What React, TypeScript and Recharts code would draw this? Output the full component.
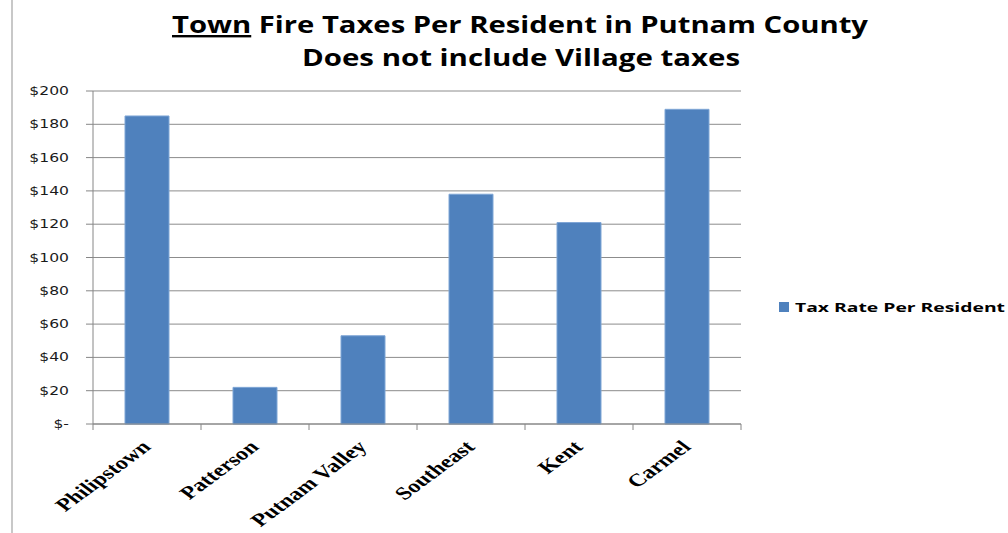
import React from 'react';
import { BarChart, Bar, XAxis, YAxis, CartesianGrid, Legend } from 'recharts';

const towns = ['Philipstown', 'Patterson', 'Putnam Valley', 'Southeast', 'Kent', 'Carmel'];
const taxPerResident = [185, 22, 53, 138, 121, 189];
const yTicks = [0, 20, 40, 60, 80, 100, 120, 140, 160, 180, 200];
const seriesName = 'Tax Rate Per Resident';
const titleLine1Rest = ' Fire Taxes Per Resident in Putnam County';
const titleLine1Underlined = 'Town';
const titleLine2 = 'Does not include Village taxes';

const data = towns.map((t, i) => ({ town: t, value: taxPerResident[i] }));

const W = 1008;
const H = 533;
const PLOT_LEFT = 93;
const PLOT_RIGHT = 741;
const STRETCH = 1.35;
const BAND = (PLOT_RIGHT - PLOT_LEFT) / towns.length;

const fmt = (v: number) => (v === 0 ? '$-' : `$${v}`);

const YTick = (props: any) => {
  const { x, y, payload } = props;
  return (
    <g transform={`translate(${x},${y}) scale(1.3,1)`}>
      <text x={0} y={0} dy={4} textAnchor="end" fontFamily="'DejaVu Sans', sans-serif" fontSize={12} fill="#1a1a1a">
        {fmt(payload.value)}
      </text>
    </g>
  );
};

const XTick = (props: any) => {
  const { x, payload, index } = props;
  const axisY = 424;
  return (
    <g>
      <line x1={x - BAND / 2} x2={x - BAND / 2} y1={axisY} y2={axisY + 6} stroke="#868686" />
      {index === towns.length - 1 && (
        <line x1={x + BAND / 2} x2={x + BAND / 2} y1={axisY} y2={axisY + 6} stroke="#868686" />
      )}
      <g transform={`translate(${x + 5},${axisY + 24}) scale(${STRETCH},1) rotate(-45)`}>
        <text x={0} y={0} textAnchor="end" fontFamily="'Liberation Serif', 'Times New Roman', serif" fontWeight="bold" fontSize={18} fill="#000">
          {payload.value}
        </text>
      </g>
    </g>
  );
};

const LegendContent = () => (
  <svg width={232} height={20} style={{ display: 'block', overflow: 'visible' }}>
    <rect x={4} y={5} width={10} height={10} fill="#4F81BD" />
    <text x={20} y={15} textLength={210} lengthAdjust="spacingAndGlyphs" fontFamily="'Open Sans', 'Noto Sans', sans-serif" fontWeight="bold" fontSize={13} fill="#000">
      {seriesName}
    </text>
  </svg>
);

export default function App() {
  return (
    <div style={{ position: 'absolute', left: 0, top: 0, width: W, height: H, background: '#fff' }}>
      <BarChart
        width={W}
        height={H}
        data={data}
        margin={{ top: 91, right: 35, bottom: 9, left: 0 }}
        barSize={44}
      >
        <CartesianGrid vertical={false} stroke="#8c8c8c" strokeWidth={1} />
        <XAxis
          dataKey="town"
          height={100}
          interval={0}
          tickLine={false}
          axisLine={{ stroke: '#868686' }}
          tick={<XTick />}
        />
        <YAxis
          width={93}
          domain={[0, 200]}
          ticks={yTicks}
          interval={0}
          tickSize={7}
          tickMargin={17}
          axisLine={{ stroke: '#868686' }}
          tickLine={{ stroke: '#868686' }}
          tick={<YTick />}
        />
        <Legend
          layout="vertical"
          align="right"
          verticalAlign="middle"
          width={232}
          wrapperStyle={{ left: 775, top: 297, right: 'auto' }}
          content={<LegendContent />}
        />
        <Bar dataKey="value" name={seriesName} fill="#4F81BD" stroke="#7fa6d6" strokeWidth={1} isAnimationActive={false} />
      </BarChart>
      <svg width={W} height={H} style={{ position: 'absolute', left: 0, top: 0, pointerEvents: 'none' }}>
        <line x1={12} x2={12} y1={0} y2={H} stroke="#c8c8c8" strokeWidth={2} />
        <text x={172} y={33} textLength={696} lengthAdjust="spacingAndGlyphs" fontFamily="'Open Sans', 'Noto Sans', sans-serif" fontWeight="bold" fontSize={24} fill="#000">
          <tspan style={{ textDecoration: 'underline' }}>{titleLine1Underlined}</tspan>
          <tspan>{titleLine1Rest}</tspan>
        </text>
        <text x={302} y={66} textLength={438} lengthAdjust="spacingAndGlyphs" fontFamily="'Open Sans', 'Noto Sans', sans-serif" fontWeight="bold" fontSize={24} fill="#000">
          {titleLine2}
        </text>
      </svg>
    </div>
  );
}
